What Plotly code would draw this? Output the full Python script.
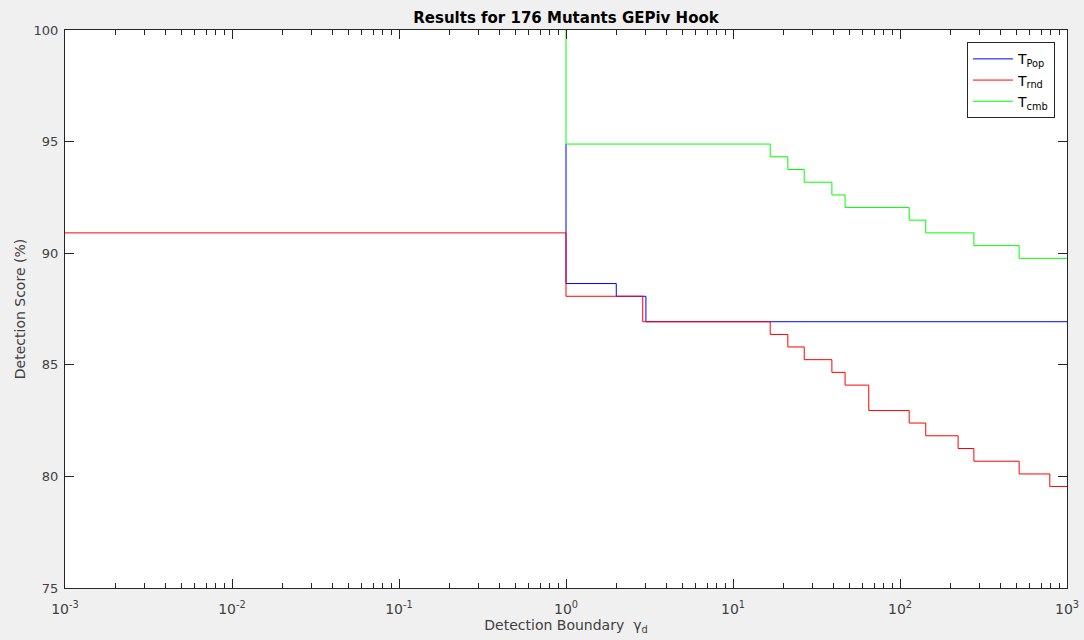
import plotly.graph_objects as go

# T_Pop
pop_x = [1, 1, 2, 3.01, 1000]
pop_y = [94.89, 88.64, 88.07, 86.93, 86.93]

# T_rnd
rnd_x = [0.001, 1, 2.88, 16.7, 21.3, 26.7, 39.1, 46.9, 65, 113.5, 142.6, 222.8, 277, 517, 789, 1000]
rnd_y = [90.91, 88.07, 86.93, 86.36, 85.80, 85.23, 84.66, 84.09, 82.95, 82.39, 81.82, 81.25, 80.68, 80.11, 79.55, 79.55]

# T_cmb
cmb_x = [1, 1, 16.7, 21.3, 26.7, 39.1, 46.9, 113.5, 142.6, 277, 517, 1000]
cmb_y = [100, 94.89, 94.32, 93.75, 93.18, 92.61, 92.05, 91.48, 90.91, 90.34, 89.77, 89.77]

names = ["T<sub>Pop</sub>", "T<sub>rnd</sub>", "T<sub>cmb</sub>"]
x_ticks = [0.001, 0.01, 0.1, 1, 10, 100, 1000]
x_labels = ["10<sup>-3</sup>", "10<sup>-2</sup>", "10<sup>-1</sup>", "10<sup>0</sup>",
            "10<sup>1</sup>", "10<sup>2</sup>", "10<sup>3</sup>"]
y_ticks = [75, 80, 85, 90, 95, 100]

AX = "#262626"
TXT = "#404040"
FONT = "DejaVu Sans"

fig = go.Figure()
for xs, ys, nm, col in [(pop_x, pop_y, names[0], "#0000ff"),
                        (rnd_x, rnd_y, names[1], "#ff0000"),
                        (cmb_x, cmb_y, names[2], "#00ff00")]:
    fig.add_trace(go.Scatter(x=xs, y=ys, mode="lines", name=nm,
                             line=dict(color=col, width=1, shape="hv")))

fig.update_layout(
    width=1084, height=640,
    paper_bgcolor="#f0f0f0", plot_bgcolor="white",
    margin=dict(l=65, r=17, t=30, b=52),
    font=dict(family=FONT, size=13, color=TXT),
    title=dict(text="<b>Results for 176 Mutants GEPiv Hook</b>",
               x=0.5, xref="paper", xanchor="center",
               y=1 - 18 / 640, yref="container", yanchor="middle",
               font=dict(family=FONT, size=15, color="black")),
    showlegend=True,
    legend=dict(x=0.988, y=0.978, xanchor="right", yanchor="top",
                bgcolor="white", bordercolor=AX, borderwidth=1,
                font=dict(family=FONT, size=14, color="black"),
                tracegroupgap=0, itemwidth=40),
)

fig.update_xaxes(
    type="log", range=[-3, 3], tickvals=x_ticks, ticktext=x_labels,
    automargin=False,
    showgrid=False, zeroline=False,
    showline=True, linecolor=AX, linewidth=1, mirror="ticks",
    ticks="inside", ticklen=9, tickcolor=AX,
    minor=dict(ticks="inside", ticklen=5, tickcolor=AX, dtick="D1", showgrid=False),
    tickfont=dict(family=FONT, size=14, color=TXT), ticklabelstandoff=8,
    title=dict(text="Detection Boundary  γ<sub>d</sub>",
               font=dict(family=FONT, size=14, color=TXT), standoff=3),
)
fig.update_yaxes(
    range=[75, 100], tickvals=y_ticks, automargin=False,
    showgrid=False, zeroline=False,
    showline=True, linecolor=AX, linewidth=1, mirror="ticks",
    ticks="inside", ticklen=9, tickcolor=AX,
    tickfont=dict(family=FONT, size=13, color=TXT), ticklabelstandoff=3,
    title=dict(text="Detection Score (%)",
               font=dict(family=FONT, size=14, color=TXT), standoff=4),
)

fig.write_html("out.html")
